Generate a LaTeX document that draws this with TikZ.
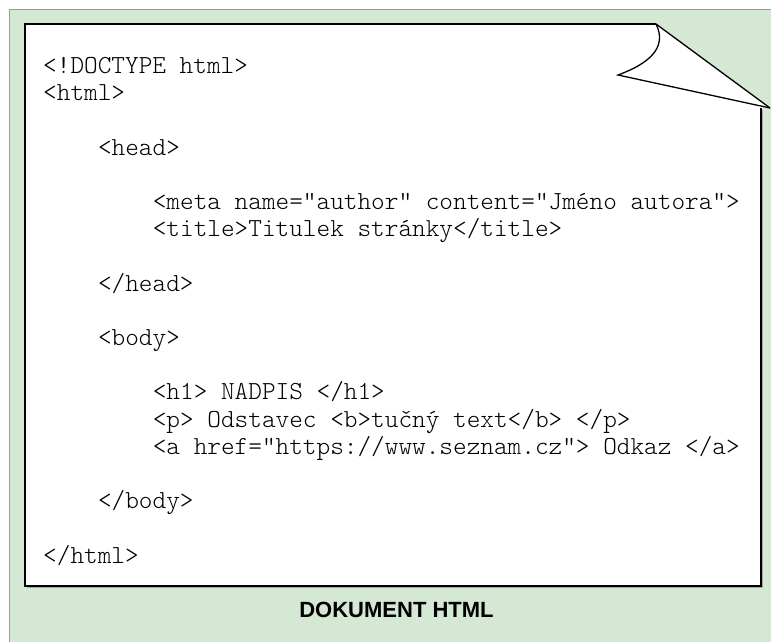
\documentclass[tikz,border=0pt]{standalone}
\usepackage{fontspec}
\newfontfamily\labelfont{Liberation Sans}
\newfontfamily\codefont{Latin Modern Mono Light}
\definecolor{panelfill}{HTML}{D5E8D4}
\definecolor{paneledge}{HTML}{82B366}
\tikzset{
  codeline/.style={anchor=base west, inner sep=0pt, font=\codefont\fontsize{26}{27}\selectfont},
  pageline/.style={draw=black, line width=1.3pt, line join=miter},
  caption/.style={anchor=base, inner sep=0pt, font=\labelfont\bfseries\fontsize{22}{26}\selectfont}
}
\begin{document}
\begin{tikzpicture}[x=1pt, y=-1pt]
  \useasboundingbox (0,0) rectangle (771,641);
  % green panel, running past the right and bottom edges
  \path[fill=panelfill, draw=paneledge, line width=1.6pt] (9.5,9.5) rectangle (790,660);

  % page with its curled corner
  \coordinate (tl) at (25,24);
  \coordinate (fold) at (656,24);
  \coordinate (tip) at (770,108);
  \coordinate (rt) at (761,108);
  \coordinate (br) at (761,586);
  \coordinate (bl) at (25,586);
  \coordinate (curl) at (618,75);
  \fill[white] (tl) -- (fold) -- (tip) -- (rt) -- (br) -- (bl) -- cycle;
  % soft shadow along right and bottom
  \draw[gray!70, line width=1.2pt] (762.5,110) -- (762.5,587.5) -- (27,587.5);
  \draw[pageline] (fold) -- (tl) -- (bl) -- (br) -- (rt);
  \draw[pageline] (fold) -- (tip);
  \draw[pageline] (fold) .. controls (668,48) and (648,64) .. (curl) -- (tip);

  % HTML source: one row every 27.2pt, indent steps of four characters
  \def\cw{13.7}
  \def\rowy#1{73.5+#1*27.2}
  \node[codeline] (l1)  at (43,{\rowy{0}})  {<!DOCTYPE html>};
  \node[codeline] (l2)  at (43,{\rowy{1}})  {<html>};
  \node[codeline] (l3)  at (43+4*\cw,{\rowy{3}})  {<head>};
  \node[codeline] (l4)  at (43+8*\cw,{\rowy{5}})  {<meta name="author" content="Jméno autora">};
  \node[codeline] (l5)  at (43+8*\cw,{\rowy{6}})  {<title>Titulek stránky</title>};
  \node[codeline] (l6)  at (43+4*\cw,{\rowy{8}})  {</head>};
  \node[codeline] (l7)  at (43+4*\cw,{\rowy{10}}) {<body>};
  \node[codeline] (l8)  at (43+8*\cw,{\rowy{12}}) {<h1> NADPIS </h1>};
  \node[codeline] (l9)  at (43+8*\cw,{\rowy{13}}) {<p> Odstavec <b>tučný text</b> </p>};
  \node[codeline] (l10) at (43+8*\cw,{\rowy{14}}) {<a href="https://www.seznam.cz"> Odkaz </a>};
  \node[codeline] (l11) at (43+4*\cw,{\rowy{16}}) {</body>};
  \node[codeline] (l12) at (43,{\rowy{18}}) {</html>};

  \node[caption] (cap) at (396.5,617) {DOKUMENT HTML};
\end{tikzpicture}
\end{document}
